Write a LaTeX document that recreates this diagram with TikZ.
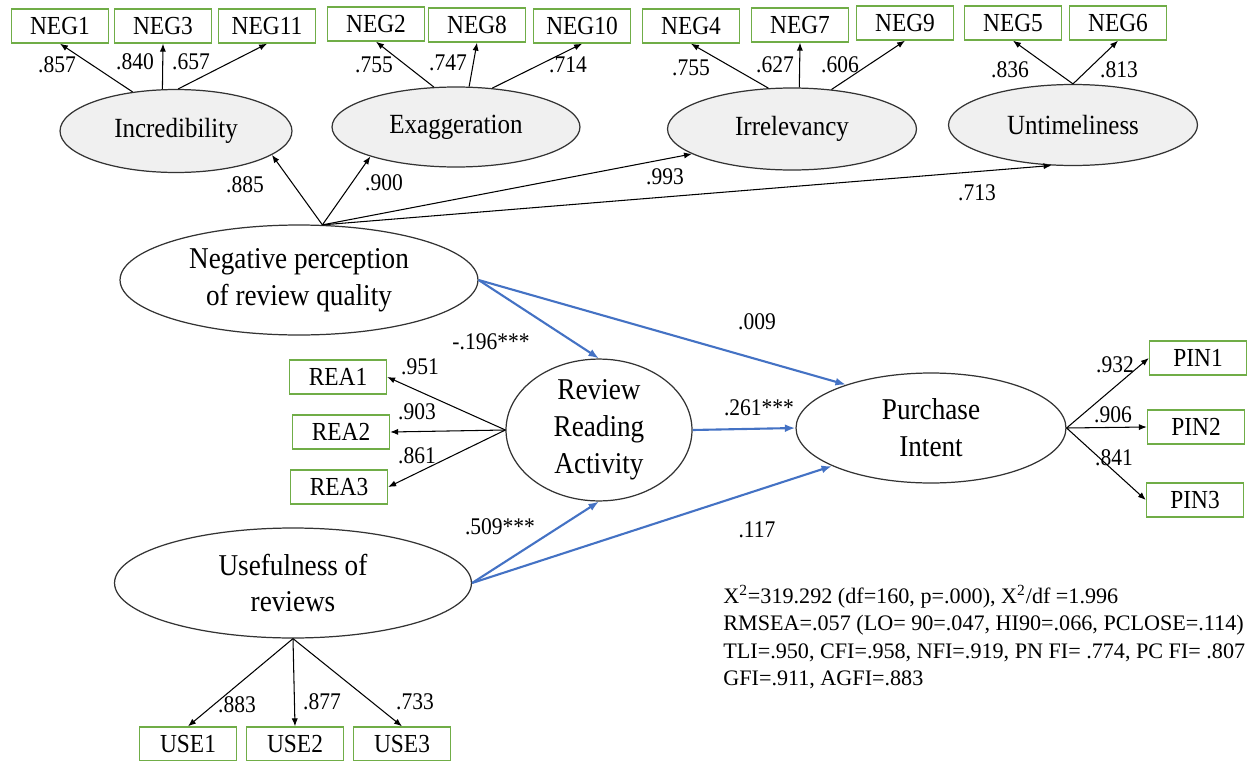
\documentclass[tikz,border=0pt]{standalone}
\usepackage{fontspec}
\setmainfont{Liberation Serif}[FakeStretch=0.9]
\newfontfamily\gofserif{Liberation Serif}
\usetikzlibrary{shapes.geometric,arrows.meta}
\definecolor{boxgreen}{RGB}{112,173,71}
\definecolor{pathblue}{RGB}{68,114,196}
\definecolor{latgray}{RGB}{240,240,240}
\begin{document}
\begin{tikzpicture}[x=0.02cm,y=-0.02cm,
  item/.style={draw=boxgreen,line width=0.8pt,minimum width=1.94cm,minimum height=0.68cm,inner sep=0pt,font=\fontsize{14.8}{17}\selectfont},
  factor/.style={ellipse,draw=black!80,line width=0.7pt,fill=latgray,inner sep=0pt,font=\fontsize{15.8}{18}\selectfont},
  construct/.style={ellipse,draw=black!80,line width=0.7pt,inner sep=0pt,align=center,font=\fontsize{17.2}{21}\selectfont},
  coef/.style={inner sep=0pt,font=\fontsize{13.6}{15}\selectfont},
  gof/.style={inner sep=0pt,align=left,font=\gofserif\fontsize{12.6}{15.65}\selectfont},
  load/.style={-{Latex[length=4.5pt,width=3.5pt]},line width=0.6pt},
  effect/.style={-{Latex[length=6pt,width=4.5pt]},pathblue,line width=1.2pt}]
\useasboundingbox (0,0) rectangle (1255,761);

% latent variables
\node[factor,minimum width=4.64cm,minimum height=1.66cm] (inc) at (176,131) {Incredibility};
\node[factor,minimum width=4.96cm,minimum height=1.6cm] (exa) at (456,127) {Exaggeration};
\node[factor,minimum width=4.98cm,minimum height=1.64cm] (irr) at (792,129) {Irrelevancy};
\node[factor,minimum width=4.98cm,minimum height=1.62cm] (unt) at (1073,125) {Untimeliness};
\node[construct,minimum width=7.16cm,minimum height=2.2cm] (npq) at (299,280) {Negative perception\\of review quality};
\node[construct,minimum width=3.72cm,minimum height=2.64cm] (rra) at (599,430) {Review\\Reading\\Activity};
\node[construct,minimum width=5.4cm,minimum height=2.2cm] (pi) at (931,428) {Purchase\\Intent};
\node[construct,minimum width=7.14cm,minimum height=2.2cm] (use) at (293,583) {Usefulness of\\reviews};

% indicators
\foreach \n/\x/\y/\t in {neg1/60/26/NEG1, neg3/163/26/NEG3, neg11/267/26/NEG11,
  neg2/376/24/NEG2, neg8/477/25/NEG8, neg10/582/26/NEG10,
  neg4/691/26/NEG4, neg7/800/25/NEG7, neg9/905/23/NEG9,
  neg5/1013/23/NEG5, neg6/1118/23/NEG6,
  rea1/338/377/REA1, rea2/341/432/REA2, rea3/339/487/REA3,
  pin1/1198/358/PIN1, pin2/1196/427/PIN2, pin3/1195/500/PIN3,
  use1/188/744/USE1, use2/295/744/USE2, use3/402/744/USE3}
  \node[item] (\n) at (\x,\y) {\t};

% loadings
\draw[load] (inc.138) -- (neg1.south);
\draw[load] (inc.108) -- (neg3.south);
\draw[load] (inc.87) -- (neg11.south);
\draw[load] (exa.119) -- (neg2.south);
\draw[load] (exa.72) -- (neg8.south);
\draw[load] (exa.47) -- (neg10.south);
\draw[load] (irr.120) -- (neg4.south);
\draw[load] (irr.80) -- (neg7.south);
\draw[load] (irr.45) -- (neg9.south);
\draw[load] (unt.north) -- (neg5.south);
\draw[load] (unt.north) -- (neg6.south);
\draw[load] (npq.67) -- (inc.-14);
\draw[load] (npq.67) -- (exa.199);
\draw[load] (npq.67) -- (irr.194);
\draw[load] (npq.67) -- (unt.242);
\foreach \r in {rea1,rea2,rea3} \draw[load] (rra.west) -- (\r.east);
\foreach \p in {pin1,pin2,pin3} \draw[load] (pi.east) -- (\p.west);
\foreach \u in {use1,use2,use3} \draw[load] (use.south) -- (\u.north);

% structural paths
\draw[effect] (npq.east) -- (rra.north);
\draw[effect] (npq.east) -- (pi.153);
\draw[effect] (rra.east) -- (pi.west);
\draw[effect] (use.east) -- (rra.south);
\draw[effect] (use.east) -- (pi.201);

% coefficients
\foreach \x/\y/\t [count=\i] in {57/65/.857, 135/62/.840, 191/62/.657,
  374/65/.755, 448/63/.747, 568/65/.714, 691/68/.755, 775/65/.627, 840/65/.606,
  1010/70/.836, 1119/70/.813, 245/185/.885, 384/183/.900, 665/177/.993, 977/193/.713,
  491/342/-.196***, 757/322/.009, 420/367/.951, 417/412/.903, 417/456/.861,
  759/408/.261***, 1115/365/.932, 1113/415/.906, 1114/458/.841,
  500/527/.509***, 757/530/.117, 237/705/.883, 322/702/.877, 415/702/.733}
  \node[coef] (c\i) at (\x,\y) {\t};

\node[gof,anchor=north west] (fitidx) at (723,585) {X\textsuperscript{2}=319.292 (df=160, p=.000), X\textsuperscript{2}/df =1.996\\
RMSEA=.057 (LO= 90=.047, HI90=.066, PCLOSE=.114)\\
TLI=.950, CFI=.958, NFI=.919, PN FI= .774, PC FI= .807\\
GFI=.911, AGFI=.883};
\end{tikzpicture}
\end{document}
